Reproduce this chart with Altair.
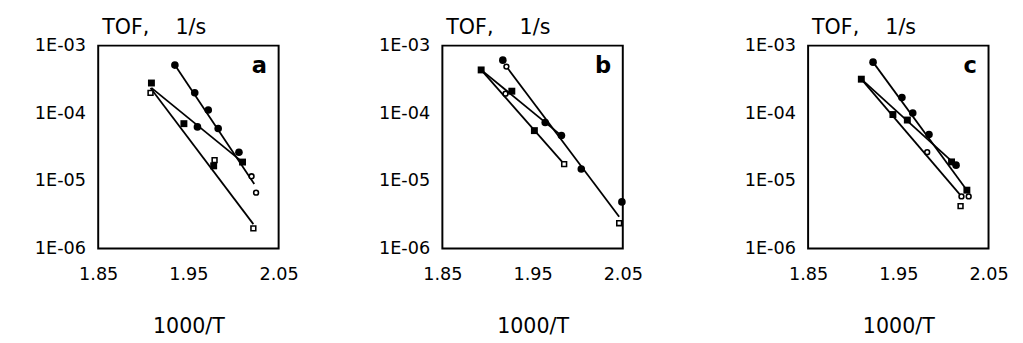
import altair as alt
import pandas as pd

X_TICKS = [1.85, 1.95, 2.05]
Y_TICKS = [1e-6, 1e-5, 1e-4, 1e-3]
PANEL_LETTERS = ["a", "b", "c"]
Y_TITLE = "TOF,\u00a0\u00a0\u00a0\u00a01/s"
X_TITLE = "1000/T"

# ---- panel a ----
A_FC_X = [1.935, 1.957, 1.972, 1.983, 1.960, 2.006]
A_FC_Y = [5.15e-4, 2.01e-4, 1.12e-4, 5.94e-5, 6.29e-5, 2.65e-5]
A_FS_X = [1.909, 1.945, 1.978, 2.010]
A_FS_Y = [2.80e-4, 7.02e-5, 1.67e-5, 1.90e-5]
A_OC_X = [2.020, 2.025]
A_OC_Y = [1.17e-5, 6.7e-6]
A_OS_X = [1.908, 1.979, 2.022]
A_OS_Y = [2.0e-4, 2.03e-5, 1.99e-6]
A_LINE_X0 = [1.935, 1.909, 1.908]
A_LINE_Y0 = [5.15e-4, 2.37e-4, 2.37e-4]
A_LINE_X1 = [2.023, 2.010, 2.022]
A_LINE_Y1 = [9.0e-6, 1.9e-5, 2.3e-6]

# ---- panel b ----
B_FC_X = [1.917, 1.964, 1.982, 2.004, 2.049]
B_FC_Y = [6.1e-4, 7.3e-5, 4.68e-5, 1.5e-5, 4.9e-6]
B_FS_X = [1.893, 1.927, 1.952]
B_FS_Y = [4.37e-4, 2.12e-4, 5.54e-5]
B_OC_X = [1.921, 1.920]
B_OC_Y = [4.9e-4, 1.95e-4]
B_OS_X = [1.985, 2.046]
B_OS_Y = [1.77e-5, 2.37e-6]
B_LINE_X0 = [1.921, 1.893, 1.893]
B_LINE_Y0 = [4.9e-4, 4.37e-4, 4.37e-4]
B_LINE_X1 = [2.046, 1.982, 1.985]
B_LINE_Y1 = [2.95e-6, 4.68e-5, 1.77e-5]

# ---- panel c ----
C_FC_X = [1.922, 1.954, 1.966, 1.984, 2.014]
C_FC_Y = [5.7e-4, 1.71e-4, 1.01e-4, 4.85e-5, 1.71e-5]
C_FS_X = [1.909, 1.944, 1.960, 2.009, 2.026]
C_FS_Y = [3.19e-4, 9.58e-5, 7.94e-5, 1.91e-5, 7.3e-6]
C_OC_X = [1.982, 2.020, 2.028]
C_OC_Y = [2.66e-5, 5.9e-6, 5.9e-6]
C_OS_X = [2.019]
C_OS_Y = [4.25e-6]
C_LINE_X0 = [1.922, 1.909, 1.909]
C_LINE_Y0 = [5.7e-4, 3.19e-4, 3.19e-4]
C_LINE_X1 = [2.026, 2.014, 2.020]
C_LINE_Y1 = [7.3e-6, 1.71e-5, 5.9e-6]

FONT = "DejaVu Sans"
W, H = 184, 207


def xenc():
    return alt.X(
        "x:Q",
        scale=alt.Scale(domain=[1.85, 2.05], nice=False, zero=False),
        axis=alt.Axis(values=X_TICKS, format=".2f", title=X_TITLE, grid=False,
                      ticks=False, domain=False, labelPadding=18, titlePadding=33,
                      labelFontSize=18, titleFontSize=21, labelFont=FONT,
                      titleFont=FONT, titleFontWeight="normal", labelColor="black",
                      titleColor="black", labelFlush=False),
    )


def yenc(extent):
    return alt.Y(
        "y:Q",
        scale=alt.Scale(type="log", domain=[1e-6, 1e-3], nice=False),
        axis=alt.Axis(values=Y_TICKS, title=None, grid=False, ticks=False,
                      domain=False, labelPadding=13, labelFontSize=18,
                      labelFont=FONT, labelColor="black", minExtent=extent,
                      maxExtent=extent, labelFlush=False,
                      labelExpr="'1E-0' + format(-log(datum.value)/LN10, '.0f')"),
    )


def panel(letter, extent, fcx, fcy, fsx, fsy, ocx, ocy, osx, osy, lx0, ly0, lx1, ly1):
    lines = pd.DataFrame({"x": lx0, "y": ly0, "x1": lx1, "y1": ly1})
    rules = alt.Chart(lines).mark_rule(color="black", strokeWidth=1.8).encode(
        x=xenc(), y=yenc(extent), x2="x1:Q", y2="y1:Q")

    def pts(xs, ys, shape, filled, size):
        df = pd.DataFrame({"x": xs, "y": ys})
        if filled:
            m = alt.Chart(df).mark_point(shape=shape, filled=True, color="black",
                                         size=size, opacity=1)
        else:
            m = alt.Chart(df).mark_point(shape=shape, filled=True, fill="white",
                                         stroke="black", strokeWidth=1.6,
                                         size=size, opacity=1)
        return m.encode(x=xenc(), y=yenc(extent))

    fc = pts(fcx, fcy, "circle", True, 60)
    fs = pts(fsx, fsy, "square", True, 50)
    oc = pts(ocx, ocy, "circle", False, 24)
    os_ = pts(osx, osy, "square", False, 24)
    lab = alt.Chart(pd.DataFrame({"t": [letter]})).mark_text(
        align="right", baseline="middle", font=FONT, fontSize=23,
        fontWeight="bold", color="black").encode(
        text="t:N", x=alt.value(W - 12), y=alt.value(21))
    return alt.layer(rules, fc, fs, oc, os_, lab).properties(
        width=W, height=H,
        title=alt.TitleParams(Y_TITLE, anchor="start", frame="group", fontSize=21,
                              font=FONT, fontWeight="normal", color="black",
                              dx=4, offset=-1),
    )


pa = panel(PANEL_LETTERS[0], 86, A_FC_X, A_FC_Y, A_FS_X, A_FS_Y, A_OC_X, A_OC_Y,
           A_OS_X, A_OS_Y, A_LINE_X0, A_LINE_Y0, A_LINE_X1, A_LINE_Y1)
pb = panel(PANEL_LETTERS[1], 91, B_FC_X, B_FC_Y, B_FS_X, B_FS_Y, B_OC_X, B_OC_Y,
           B_OS_X, B_OS_Y, B_LINE_X0, B_LINE_Y0, B_LINE_X1, B_LINE_Y1)
pc = panel(PANEL_LETTERS[2], 113, C_FC_X, C_FC_Y, C_FS_X, C_FS_Y, C_OC_X, C_OC_Y,
           C_OS_X, C_OS_Y, C_LINE_X0, C_LINE_Y0, C_LINE_X1, C_LINE_Y1)

chart = alt.hconcat(pa, pb, pc, spacing=53).configure_view(
    stroke="black", strokeWidth=2)

chart.save("out.html", embed_options={"renderer": "svg", "actions": False})
